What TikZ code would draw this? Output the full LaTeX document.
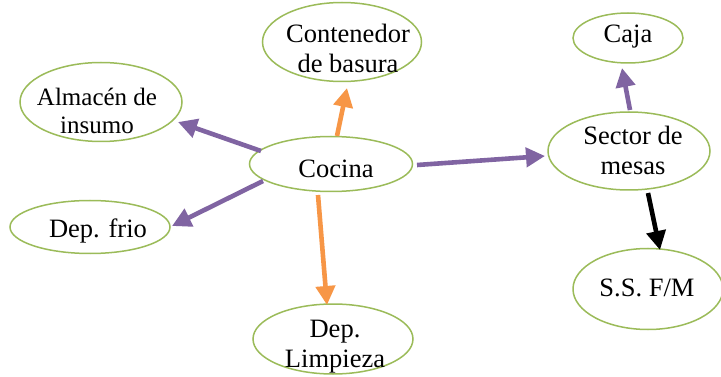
\documentclass[tikz,border=0pt]{standalone}
\usepackage{fontspec}
\setmainfont{Liberation Serif}
\usetikzlibrary{arrows.meta,shapes.geometric}
\definecolor{egreen}{HTML}{9BBB59}
\definecolor{apurple}{HTML}{8064A2}
\definecolor{aorange}{HTML}{F79646}
\tikzset{
  ell/.style={ellipse, draw=egreen, line width=1.5pt, fill=white, inner sep=0pt},
  lbl/.style={font=\fontsize{26.5}{30}\selectfont, align=center, inner sep=0pt, text=black},
  conn/.style={line width=4.6pt, -{Triangle[length=19pt,width=19pt]}},
  pconn/.style={conn, draw=apurple},
  oconn/.style={conn, draw=aorange},
  kconn/.style={conn, draw=black},
}
\begin{document}
\begin{tikzpicture}[x=1pt,y=-1pt]
\useasboundingbox (0,0) rectangle (721,377);
\clip (0,0) rectangle (721,377);
\fill[white] (0,0) rectangle (721,377);
% ellipses
\node[ell, minimum width=163pt, minimum height=55pt] (cocina) at (331,164) {};
\node[ell, minimum width=159pt, minimum height=79pt] (cont) at (342,42) {};
\node[ell, minimum width=162pt, minimum height=79pt] (alm) at (101,102) {};
\node[ell, minimum width=160pt, minimum height=53pt] (frio) at (90,227) {};
\node[ell, minimum width=160pt, minimum height=70pt] (limp) at (333,339) {};
\node[ell, minimum width=110pt, minimum height=50pt] (caja) at (628,38) {};
\node[ell, minimum width=162pt, minimum height=78pt] (sector) at (629,151) {};
\node[ell, minimum width=150pt, minimum height=81pt] (ss) at (648,289) {};
% labels
\node[lbl] (tcocina) at (336,169) {Cocina};
\node[lbl] (tcont) at (348,48) {Contenedor\\de basura};
\node[lbl, font=\fontsize{25}{28}\selectfont] (talm) at (97,111) {Almacén de\\insumo};
\node[lbl] (tfrio) at (98,231) {Dep. frio};
\node[lbl] (tlimp) at (335,347) {Dep.\\Limpieza};
\node[lbl] (tcaja) at (628,37) {Caja};
\node[lbl] (tsector) at (633,150) {Sector de\\mesas};
\node[lbl] (tss) at (647,288) {S.S. F/M};
% connector end points
\coordinate (c1s) at (261,151); \coordinate (c1e) at (178,122);
\coordinate (c2s) at (263,181); \coordinate (c2e) at (172,226);
\coordinate (c3s) at (337,136); \coordinate (c3e) at (347,88);
\coordinate (c4s) at (318,195); \coordinate (c4e) at (327,305);
\coordinate (c5s) at (417,165); \coordinate (c5e) at (545,156);
\coordinate (c6s) at (630,110); \coordinate (c6e) at (622,68);
\coordinate (c7s) at (648,193); \coordinate (c7e) at (660,250);
% connectors
\draw[pconn] (c1s) -- (c1e);
\draw[pconn] (c2s) -- (c2e);
\draw[oconn] (c3s) -- (c3e);
\draw[oconn] (c4s) -- (c4e);
\draw[pconn] (c5s) -- (c5e);
\draw[pconn] (c6s) -- (c6e);
\draw[kconn] (c7s) -- (c7e);
\end{tikzpicture}
\end{document}
